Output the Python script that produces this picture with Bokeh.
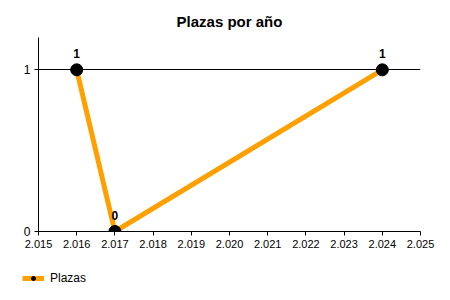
from bokeh.plotting import figure
from bokeh.layouts import column
from bokeh.models import FixedTicker, Range1d, Legend, LegendItem, ColumnDataSource, LabelSet
from bokeh.core.properties import value
from bokeh.embed import file_html
from bokeh.resources import INLINE

title = "Plazas por año"
series_name = "Plazas"
years = [2016, 2017, 2024]
plazas = [1, 0, 1]
point_labels = ["1", "0", "1"]
xticks = [2015, 2016, 2017, 2018, 2019, 2020, 2021, 2022, 2023, 2024, 2025]
xtick_labels = ["2.015", "2.016", "2.017", "2.018", "2.019", "2.020", "2.021", "2.022", "2.023", "2.024", "2.025"]
yticks = [0, 1]

FONT = "Liberation Sans"
LINE_COLOR = "#FFA000"

p = figure(width=450, height=255, output_backend="svg", toolbar_location=None,
           x_range=Range1d(2015, 2025), y_range=Range1d(0, 1.2),
           min_border_left=38, min_border_right=30, min_border_top=37, min_border_bottom=24)
p.title.text = title
p.title.align = "center"
p.title.vertical_align = "middle"
p.title.text_font = FONT
p.title.text_font_size = "15px"
p.title.text_font_style = "bold"
p.title.text_color = "black"
p.title.offset = 0
p.title.standoff = 13
p.outline_line_color = None

p.xgrid.visible = False
p.ygrid.ticker = FixedTicker(ticks=yticks)
p.ygrid.grid_line_color = "black"
p.ygrid.grid_line_alpha = 1.0

for ax in (p.xaxis[0], p.yaxis[0]):
    ax.axis_line_color = "black"
    ax.major_tick_line_color = "black"
    ax.minor_tick_line_color = None
    ax.major_tick_in = 0
    ax.major_tick_out = 4
    ax.major_label_text_font = FONT
    ax.major_label_text_font_size = "11px"
    ax.major_label_text_color = "black"
    ax.major_label_standoff = 4

p.xaxis.ticker = FixedTicker(ticks=xticks)
p.xaxis.major_label_overrides = {t: l for t, l in zip(xticks, xtick_labels)}
p.yaxis.ticker = FixedTicker(ticks=yticks)
p.yaxis.major_label_text_font_size = "12px"

src = ColumnDataSource(dict(x=years, y=plazas, lab=point_labels))
p.line("x", "y", source=src, line_color=LINE_COLOR, line_width=5)
p.scatter("x", "y", source=src, size=12, fill_color="black", line_color="black")

labels = LabelSet(x="x", y="y", text="lab", source=src, y_offset=12, text_align="center",
                  text_baseline="bottom", text_font=value(FONT), text_font_size="12px",
                  text_font_style="bold", text_color="black")
p.add_layout(labels)

# legend strip below the chart (renderers share the data, kept out of view)
lf = figure(width=450, height=45, output_backend="svg", toolbar_location=None,
            x_range=Range1d(0, 1), y_range=Range1d(100, 101),
            x_axis_location=None, y_axis_location=None,
            min_border_left=0, min_border_right=0, min_border_top=0, min_border_bottom=0)
try:
    lf.frame_align = False
except Exception:
    pass
lf.grid.visible = False
lf.outline_line_color = None
l_line = lf.line("x", "y", source=src, line_color=LINE_COLOR, line_width=5)
l_pts = lf.scatter("x", "y", source=src, size=12, fill_color="black", line_color="black")
legend = Legend(items=[LegendItem(label=series_name, renderers=[l_line, l_pts])],
                location=(22, 15), orientation="horizontal",
                background_fill_alpha=0, border_line_color=None,
                label_text_font=FONT, label_text_font_size="12px", label_text_color="black",
                glyph_width=22, glyph_height=10, padding=0, margin=0, label_standoff=6,
                label_height=14)
lf.add_layout(legend)

layout = column(p, lf, spacing=0)
open("out.html", "w").write(file_html(layout, INLINE))
